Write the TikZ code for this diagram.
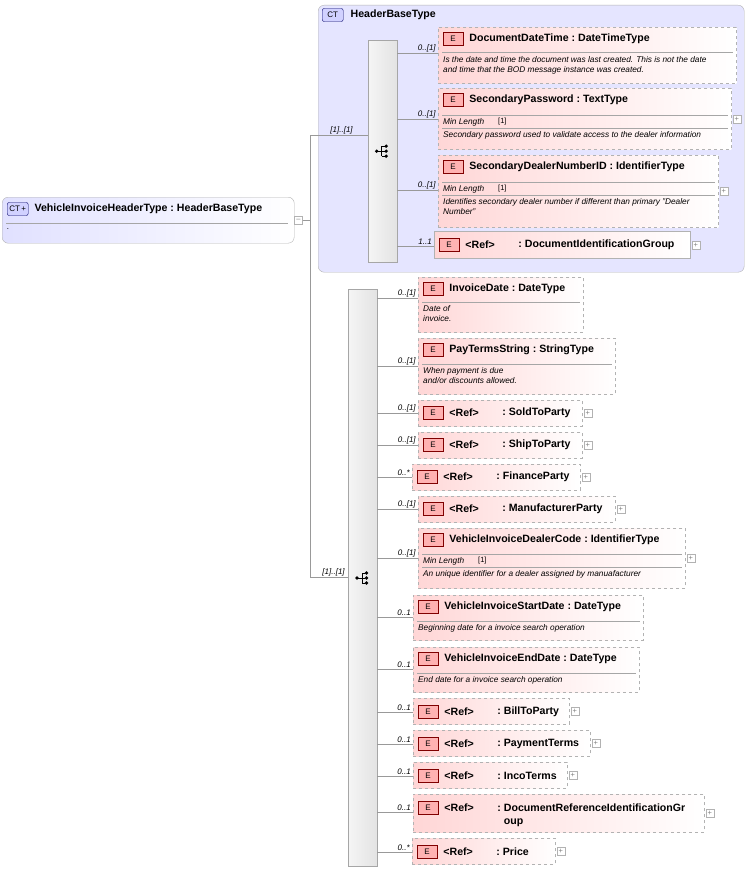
\documentclass[tikz,border=0pt]{standalone}
\usepackage{fontspec}
\setmainfont{Liberation Sans}
\usetikzlibrary{positioning}

\tikzset{
  conn/.style = {draw = gray!80, line width = 0.6pt},
  ebox/.style = {draw = gray!60, dashed, line width = 0.8pt, left color = red!16, right color = white, inner sep = 0},
  rbox/.style = {draw = gray!60, line width = 0.8pt, left color = red!16, right color = white, inner sep = 0},
  seqbox/.style = {draw = gray!70, left color = gray!8, right color = gray!22, inner sep = 0},
  badge/.style = {draw = red!50!black, fill = red!30, minimum width = 20pt, minimum height = 13pt, inner sep = 0, font = \fontsize{8}{9}\selectfont},
  ctbadge/.style = {draw = blue!40!black, fill = blue!18, rounded corners = 2pt, minimum width = 21pt, minimum height = 13pt, inner sep = 0, font = \fontsize{8}{9}\selectfont},
  etitle/.style = {font = \fontsize{10.6}{12.5}\selectfont\bfseries, inner sep = 0, anchor = west},
  edesc/.style = {font = \fontsize{8.3}{10}\selectfont\itshape, inner sep = 0, anchor = north west, align = left},
  mult/.style = {font = \fontsize{8}{9}\selectfont\itshape, inner sep = 1pt, anchor = south east},
  plusbox/.style = {draw = gray!60, fill = white, minimum size = 8pt, inner sep = 0, font = \fontsize{7.5}{7.5}\selectfont, text = gray}
}

% name, sequence, x, y, width, height, line y, multiplicity, style
\newcommand\elem[9]{%
  \node[#9, minimum width = #5pt, minimum height = #6pt, anchor = north west] (#1) at (#3,#4) {};
  \coordinate (#1-in) at (#3,#7);
  \draw[conn] (#2.east |- #1-in) -- (#1-in) node[mult, xshift = -1pt] {#8};
}
\newcommand\ehead[3]{%
  \node[badge] (#1-e) at ([xshift = 15pt, yshift = -#2pt]#1.north west) {E};
  \node[etitle, right = 6pt of #1-e] (#1-t) {#3};
}
\newcommand\rhead[3]{%
  \node[badge] (#1-e) at ([xshift = 15pt, yshift = -#2pt]#1.north west) {E};
  \node[etitle, right = 6pt of #1-e] (#1-r) {<Ref>};
  \node[etitle] (#1-t) at ([xshift = 53pt]#1-r.west) {:~#3};
}
\newcommand\esep[2]{\draw[gray!70] ([xshift = 4pt, yshift = -#2pt]#1.north west) -- ([xshift = -4pt, yshift = -#2pt]#1.north east);}
\newcommand\edesc[3]{\node[edesc] at ([xshift = 5pt, yshift = -#2pt]#1.north west) {#3};}
\newcommand\eminlen[2]{%
  \node[edesc, anchor = west] at ([xshift = 5pt, yshift = -#2pt]#1.north west) {Min Length};
  \node[edesc, anchor = west, font = \fontsize{7.5}{9}\selectfont] at ([xshift = 60pt, yshift = -#2pt]#1.north west) {[1]};
}
\newcommand\eplus[1]{\node[plusbox] at ([xshift = 5pt]#1.east) {+};}
\newcommand\seqicon[1]{%
  \fill ([xshift = -6pt]#1.center) circle (1.8pt);
  \draw[line width = 0.7pt] ([xshift = -6pt]#1.center) -- ++(5pt,0pt)
    ([xshift = -1pt, yshift = 5pt]#1.center) -- ++(0pt,-10pt);
  \foreach \dy in {5,0,-5} {
    \draw[line width = 0.7pt] ([xshift = -1pt, yshift = \dy pt]#1.center) -- ++(3pt,0pt);
    \fill ([xshift = 3.5pt, yshift = \dy pt]#1.center) circle (1.8pt);
  }
}

\begin{document}
\begin{tikzpicture}[x = 1pt, y = -1pt]
\useasboundingbox (0,0) rectangle (749,872);

% root type
\node[draw = gray!60, rounded corners = 6pt, left color = blue!12, right color = white, minimum width = 292pt, minimum height = 46pt, anchor = north west, inner sep = 0] (root) at (2,197) {};
\node[ctbadge, anchor = west] (root-ct) at ([xshift = 5pt, yshift = -12pt]root.north west) {CT\,+};
\node[etitle, right = 6pt of root-ct] {VehicleInvoiceHeaderType~:~HeaderBaseType};
\draw[gray!70] ([xshift = 4pt, yshift = -26pt]root.north west) -- ([xshift = -6pt, yshift = -26pt]root.north east);
\node[edesc] at ([xshift = 5pt, yshift = -31pt]root.north west) {.};
\node[plusbox] (root-min) at ([xshift = 4pt]root.east) {--};

% base type
\node[draw = gray!60, rounded corners = 6pt, fill = blue!10, minimum width = 426pt, minimum height = 267pt, anchor = north west, inner sep = 0] (base) at (318,5) {};
\node[ctbadge, anchor = west] (base-ct) at ([xshift = 4pt, yshift = -10pt]base.north west) {CT};
\node[etitle, right = 7pt of base-ct] {HeaderBaseType};

% sequences
\node[seqbox, minimum width = 29pt, minimum height = 222pt, anchor = north west] (seqA) at (368,40) {};
\node[seqbox, minimum width = 29pt, minimum height = 577pt, anchor = north west] (seqB) at (348,289) {};
\seqicon{seqA}
\coordinate (seqBicon) at (363,578);
\seqicon{seqBicon}
\coordinate (jT) at (310,135);
\coordinate (jB) at (310,577);
\draw[conn] (root-min.east) -- (root-min.east -| jT);
\draw[conn] (jT) -- (jB);
\draw[conn] (jT) -- (jT -| seqA.west) node[mult, xshift = -14pt] {[1]..[1]};
\draw[conn] (jB) -- (jB -| seqB.west) node[mult, xshift = -2pt] {[1]..[1]};

% header base children
\elem{ddt}{seqA}{438}{27}{298}{56}{53}{0..[1]}{ebox}
\ehead{ddt}{12}{DocumentDateTime~:~DateTimeType}
\esep{ddt}{25}
\edesc{ddt}{29}{Is the date and time the document was last created. This is not the date\\and time that the BOD message instance was created.}

\elem{spw}{seqA}{438}{88}{293}{61}{119}{0..[1]}{ebox}
\ehead{spw}{12}{SecondaryPassword~:~TextType}
\esep{spw}{27}
\eminlen{spw}{34}
\esep{spw}{40}
\edesc{spw}{43}{Secondary password used to validate access to the dealer information}
\eplus{spw}

\elem{sdn}{seqA}{438}{155}{280}{72}{190}{0..[1]}{ebox}
\ehead{sdn}{12}{SecondaryDealerNumberID~:~IdentifierType}
\esep{sdn}{27}
\eminlen{sdn}{34}
\esep{sdn}{40}
\edesc{sdn}{43}{Identifies secondary dealer number if different than primary "Dealer\\Number"}
\eplus{sdn}

\elem{dig}{seqA}{434}{231}{256}{27}{246}{1..1}{rbox}
\rhead{dig}{14}{DocumentIdentificationGroup}
\eplus{dig}

% vehicle invoice children
\elem{ind}{seqB}{418}{277}{165}{55}{298}{0..[1]}{ebox}
\ehead{ind}{12}{InvoiceDate~:~DateType}
\esep{ind}{25}
\edesc{ind}{28}{Date of\\invoice.}

\elem{pts}{seqB}{418}{338}{197}{56}{366}{0..[1]}{ebox}
\ehead{pts}{12}{PayTermsString~:~StringType}
\esep{pts}{26}
\edesc{pts}{29}{When payment is due\\and/or discounts allowed.}

\elem{stp}{seqB}{418}{400}{164}{26}{413}{0..[1]}{ebox}
\rhead{stp}{13}{SoldToParty}
\eplus{stp}

\elem{shp}{seqB}{418}{432}{164}{26}{445}{0..[1]}{ebox}
\rhead{shp}{13}{ShipToParty}
\eplus{shp}

\elem{fnp}{seqB}{412}{464}{168}{26}{477}{0..*}{ebox}
\rhead{fnp}{13}{FinanceParty}
\eplus{fnp}

\elem{mfp}{seqB}{418}{496}{197}{26}{509}{0..[1]}{ebox}
\rhead{mfp}{13}{ManufacturerParty}
\eplus{mfp}

\elem{vdc}{seqB}{418}{528}{267}{60}{558}{0..[1]}{ebox}
\ehead{vdc}{12}{VehicleInvoiceDealerCode~:~IdentifierType}
\esep{vdc}{26}
\eminlen{vdc}{33}
\esep{vdc}{39}
\edesc{vdc}{42}{An unique identifier for a dealer assigned by manuafacturer}
\eplus{vdc}

\elem{vsd}{seqB}{413}{595}{230}{45}{617}{0..1}{ebox}
\ehead{vsd}{12}{VehicleInvoiceStartDate~:~DateType}
\esep{vsd}{26}
\edesc{vsd}{29}{Beginning date for a invoice search operation}

\elem{ved}{seqB}{413}{647}{226}{45}{669}{0..1}{ebox}
\ehead{ved}{12}{VehicleInvoiceEndDate~:~DateType}
\esep{ved}{26}
\edesc{ved}{29}{End date for a invoice search operation}

\elem{btp}{seqB}{413}{698}{156}{26}{712}{0..1}{ebox}
\rhead{btp}{14}{BillToParty}
\eplus{btp}

\elem{pmt}{seqB}{413}{730}{177}{26}{744}{0..1}{ebox}
\rhead{pmt}{14}{PaymentTerms}
\eplus{pmt}

\elem{ict}{seqB}{413}{762}{154}{26}{776}{0..1}{ebox}
\rhead{ict}{14}{IncoTerms}
\eplus{ict}

\elem{drg}{seqB}{413}{794}{291}{38}{812}{0..1}{ebox}
\node[badge] (drg-e) at ([xshift = 15pt, yshift = -14pt]drg.north west) {E};
\node[etitle, right = 6pt of drg-e] (drg-r) {<Ref>};
\node[etitle, anchor = north west, align = left] (drg-t) at ([xshift = 53pt]drg-r.north west) {:~DocumentReferenceIdentificationGr\\\phantom{:~}oup};
\eplus{drg}

\elem{prc}{seqB}{412}{838}{143}{26}{852}{0..*}{ebox}
\rhead{prc}{14}{Price}
\eplus{prc}

\end{tikzpicture}
\end{document}
